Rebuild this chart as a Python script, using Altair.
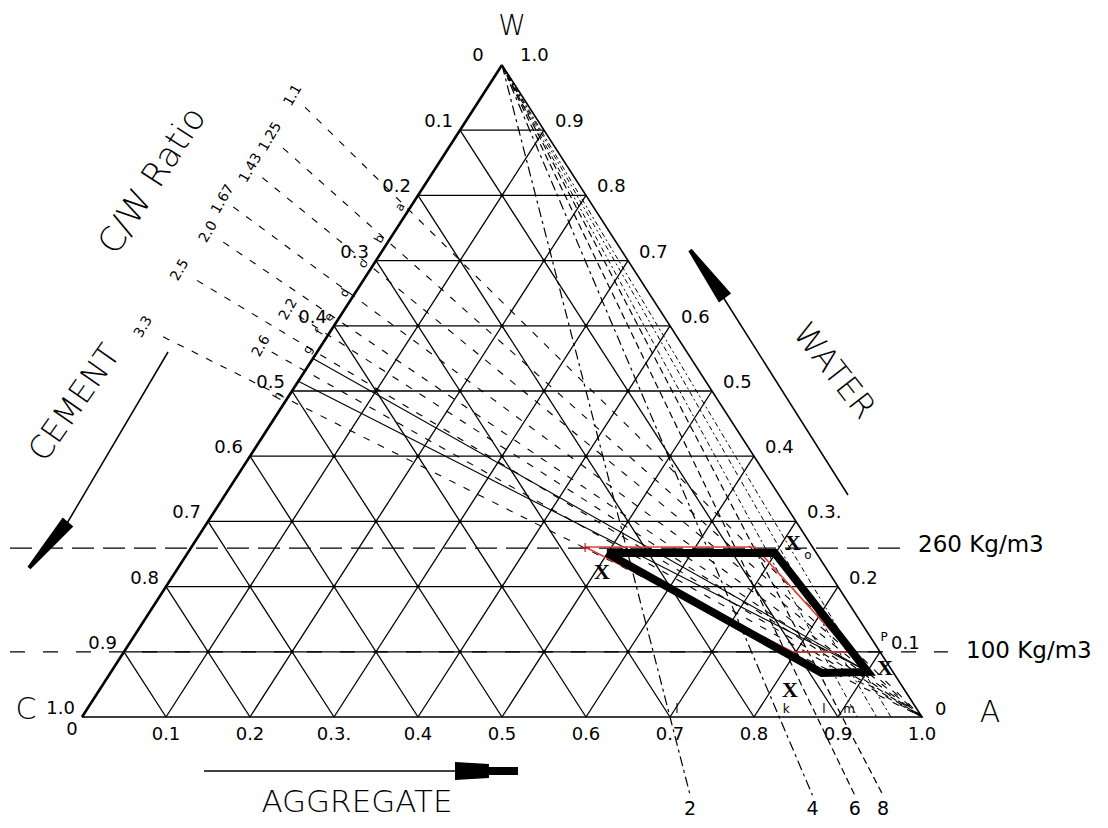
import math
import altair as alt
import pandas as pd

# ----------------------------------------------------------------- values
GRID = [0.1, 0.2, 0.3, 0.4, 0.5, 0.6, 0.7, 0.8, 0.9]

CEMENT_VALUES = [0.1, 0.2, 0.3, 0.4, 0.5, 0.6, 0.7, 0.8, 0.9, 1.0]
CEMENT_TEXT = ["0.1", "0.2", "0.3", "0.4", "0.5", "0.6", "0.7", "0.8", "0.9", "1.0"]
WATER_VALUES = [0.9, 0.8, 0.7, 0.6, 0.5, 0.4, 0.3, 0.2, 0.1]
WATER_TEXT = ["0.9", "0.8", "0.7", "0.6", "0.5", "0.4", "0.3.", "0.2", "0.1"]
AGG_VALUES = [0.1, 0.2, 0.3, 0.4, 0.5, 0.6, 0.7, 0.8, 0.9, 1.0]
AGG_TEXT = ["0.1", "0.2", "0.3.", "0.4", "0.5", "0.6", "0.7", "0.8", "0.9", "1.0"]

CW_TEXT = ["1.1", "1.25", "1.43", "1.67", "2.0", "2.2", "2.5", "2.6", "3.3"]
CW_EDGE_W = [0.778, 0.729, 0.690, 0.646, 0.609, 0.586, 0.559, 0.531, 0.488]
EDGE_LETTERS = ["a", "b", "c", "d", "e", "f", "g", "", "h"]

APEX_TEXT = ["2", "4", "6", "8"]
APEX_BASE_A = [0.700, 0.830, 0.875, 0.905]
APEX_LETTERS = ["l", "k", "l", "m"]
APEX_EXTRA_A = [0.923, 0.946, 0.963]

SOLID_START_W = [0.550, 0.515]
SOLID_END_A, SOLID_END_W = 0.900, 0.070

LIMIT_W = [0.259, 0.100]
LIMIT_TEXT = ["260 Kg/m3", "100 Kg/m3"]

ZONE_A = [0.499, 0.699, 0.901, 0.847]
ZONE_W = [0.2515, 0.2515, 0.069, 0.0675]
TRIAL_A = [0.4685, 0.6708, 0.8645, 0.7966]
TRIAL_W = [0.2607, 0.2607, 0.0997, 0.0997]

# ----------------------------------------------------------------- layout
CX, AX, BASE_Y, TOP_Y = 82.0, 922.0, 717.0, 65.0
SX = AX - CX
SY = BASE_Y - TOP_Y
CW_EXTEND = [1.202, 1.197, 1.199, 1.211, 1.196, 1.050, 1.198, 1.054, 1.195]
CW_LABEL_GAP = [17, 17, 15, 13, 18, 12, 20, 12, 22]
APEX_EXTEND = 1.12

W_CH, H_CH = 1092, 812
XDOM = [-74.0 / SX, -74.0 / SX + W_CH / SX]
YDOM = [1 + 57.0 / SY - H_CH / SY, 1 + 57.0 / SY]

FONT = "DejaVu Sans"


def tp(a, w):
    """ternary (aggregate, water) -> page pixel"""
    return (CX + SX * (a + w / 2.0), BASE_Y - SY * w)


def dx(px):
    return (px - CX) / SX


def dy(py):
    return (BASE_Y - py) / SY


X = alt.X("x:Q", scale=alt.Scale(domain=XDOM, nice=False, zero=False), axis=None)
Y = alt.Y("y:Q", scale=alt.Scale(domain=YDOM, nice=False, zero=False), axis=None)


def path_df(plist):
    recs = []
    for i, pts in enumerate(plist):
        for j, p in enumerate(pts):
            recs.append({"x": dx(p[0]), "y": dy(p[1]), "seg": i, "ord": j})
    return pd.DataFrame(recs)


def line_layer(plist, **kw):
    return alt.Chart(path_df(plist)).mark_line(**kw).encode(
        x=X, y=Y, detail="seg:N", order="ord:Q")


def wedge(base, tip, wb, wt):
    """filled arrow head polygon from base (width wb) to tip (width wt)"""
    vx, vy = tip[0] - base[0], tip[1] - base[1]
    n = math.hypot(vx, vy)
    px, py = -vy / n, vx / n
    return [(base[0] + px * wb / 2, base[1] + py * wb / 2),
            (tip[0] + px * wt / 2, tip[1] + py * wt / 2),
            (tip[0] - px * wt / 2, tip[1] - py * wt / 2),
            (base[0] - px * wb / 2, base[1] - py * wb / 2)]


def text_layer(recs, **kw):
    df = pd.DataFrame([{"x": dx(x), "y": dy(y), "t": t} for x, y, t in recs if t != ""])
    opts = dict(font=FONT, color="black")
    opts.update(kw)
    return alt.Chart(df).mark_text(**opts).encode(x=X, y=Y, text="t:N")


layers = []

# ---- grid
grid = []
for g in GRID:
    grid.append([tp(0, g), tp(1 - g, g)])          # constant water
    grid.append([tp(g, 0), tp(g, 1 - g)])          # constant aggregate
    grid.append([tp(1 - g, 0), tp(0, 1 - g)])      # constant cement
layers.append(line_layer(grid, color="black", strokeWidth=1.3))
layers.append(line_layer([[tp(0, 0), tp(1, 0), tp(0, 1)]], color="black", strokeWidth=1.6))
layers.append(line_layer([[tp(0, 0), tp(0, 1)]], color="black", strokeWidth=2.6))

nodes = []
for i in range(1, 10):
    for j in range(1, 10):
        if i + j < 10:
            p = tp(i / 10.0, j / 10.0)
            nodes.append({"x": dx(p[0]), "y": dy(p[1])})
layers.append(alt.Chart(pd.DataFrame(nodes)).mark_circle(size=12, color="black", opacity=1).encode(x=X, y=Y))

# ---- C/W ratio lines through the aggregate vertex
apx = tp(1, 0)
cw_lines, cw_labels, edge_labels = [], [], []
for w, ext, gap, txt, let in zip(CW_EDGE_W, CW_EXTEND, CW_LABEL_GAP, CW_TEXT, EDGE_LETTERS):
    e = tp(0, w)
    vx, vy = e[0] - apx[0], e[1] - apx[1]
    n = math.hypot(vx, vy)
    ux, uy = vx / n, vy / n
    s = (apx[0] + ext * vx, apx[1] + ext * vy)
    cw_lines.append([s, apx])
    cw_labels.append((s[0] + gap * ux, s[1] + gap * uy, txt))
    edge_labels.append((e[0] - 9, e[1] - 3, let))
layers.append(line_layer(cw_lines, color="black", strokeWidth=1.1, strokeDash=[7, 9]))

# ---- solid lines from cement side toward lower zone
solid = [[tp(0, w), tp(SOLID_END_A, SOLID_END_W)] for w in SOLID_START_W]
layers.append(line_layer(solid, color="black", strokeWidth=1.1))

# ---- lines from the water vertex
top = tp(0, 1)
apex_dd, apex_d, apex_labels, apex_letters = [], [], [], []
for i, (a, txt, let) in enumerate(zip(APEX_BASE_A, APEX_TEXT, APEX_LETTERS)):
    b = tp(a, 0)
    end = (top[0] + APEX_EXTEND * (b[0] - top[0]), top[1] + APEX_EXTEND * (b[1] - top[1]))
    (apex_dd if i < 2 else apex_d).append([top, end])
    apex_labels.append((end[0], 809, txt))
    apex_letters.append((b[0] + 7, b[1] - 8, let))
extra = [[top, tp(a, 0)] for a in APEX_EXTRA_A]
layers.append(line_layer(apex_dd, color="black", strokeWidth=1.2, strokeDash=[10, 4, 3, 4]))
layers.append(line_layer(apex_d, color="black", strokeWidth=1.2, strokeDash=[7, 4]))
layers.append(line_layer(extra, color="black", strokeWidth=1.0, strokeDash=[5, 3, 2, 3]))

# ---- 260 / 100 kg/m3 limits
lim260 = [[(10, tp(0, LIMIT_W[0])[1]), (905, tp(0, LIMIT_W[0])[1])]]
lim100 = [[(10, tp(0, LIMIT_W[1])[1]), (948, tp(0, LIMIT_W[1])[1])]]
layers.append(line_layer(lim260, color="black", strokeWidth=1.3, strokeDash=[22, 9]))
layers.append(line_layer(lim100, color="black", strokeWidth=1.3, strokeDash=[15, 18]))

# ---- trial zone (red) and final zone (black)
red = [[tp(a, w) for a, w in zip(TRIAL_A, TRIAL_W)] + [tp(TRIAL_A[0], TRIAL_W[0])]]
blk = [[tp(a, w) for a, w in zip(ZONE_A, ZONE_W)] + [tp(ZONE_A[0], ZONE_W[0])]]
layers.append(line_layer(red, color="#e0413c", strokeWidth=1.6))
layers.append(line_layer(blk, color="black", strokeWidth=8, strokeJoin="miter"))
rp = tp(TRIAL_A[0], TRIAL_W[0])
layers.append(text_layer([(rp[0], rp[1] + 1, "+")], fontSize=14, color="#b02020"))

# ---- arrows
AY = 771
arrow_lines = [
    [(204, AY), (470, AY)],
    [(168, 352), (66, 525)],
    [(848, 495), (723, 297)],
]
layers.append(line_layer(arrow_lines, color="black", strokeWidth=1.5))
heads = [
    [(455, AY - 9), (489, AY - 7), (489, AY - 4), (518, AY - 4),
     (518, AY + 4), (489, AY + 4), (489, AY + 7), (455, AY + 9)],
    wedge((68, 522), (29, 568), 14, 4),
    wedge((725, 298), (690, 250), 15, 4),
]
layers.append(alt.Chart(path_df(heads)).mark_line(filled=True, color="black").encode(
    x=X, y=Y, detail="seg:N", order="ord:Q"))

# ---- tick labels
left = []
for v, t in zip(CEMENT_VALUES, CEMENT_TEXT):
    e = tp(0, 1 - v)
    left.append((e[0] - 7, e[1] - 8, t))
layers.append(text_layer(left, fontSize=18, align="right", baseline="middle"))

right = []
for v, t in zip(WATER_VALUES, WATER_TEXT):
    e = tp(1 - v, v)
    right.append((e[0] + 11, e[1] - 8, t))
right.append((top[0] + 18, top[1] - 9, "1.0"))
right.append((apx[0] + 13, apx[1] - 7, "0"))
layers.append(text_layer(right, fontSize=18, align="left", baseline="middle"))

bottom = [(tp(a, 0)[0], 735, t) for a, t in zip(AGG_VALUES, AGG_TEXT)]
bottom.append((72, 730, "0"))
bottom.append((top[0] - 24, top[1] - 9, "0"))
layers.append(text_layer(bottom, fontSize=18, align="center", baseline="middle"))

# ---- C/W ratio labels and letters
layers.append(text_layer(cw_labels, fontSize=14, angle=300, align="center", baseline="middle"))
layers.append(text_layer(edge_labels, fontSize=12, angle=300, align="center", baseline="middle"))
layers.append(text_layer(apex_letters, fontSize=12, align="center", baseline="middle"))
layers.append(text_layer(apex_labels, fontSize=19, align="center", baseline="middle"))

# ---- titles
BIG = dict(fontSize=32, fontWeight=200, align="center", baseline="middle")
layers.append(text_layer([(512, 27, "W")], fontSize=28, fontWeight=200, align="center", baseline="middle"))
layers.append(text_layer([(26, 710, "C"), (990, 713, "A")],
                         fontSize=30, fontWeight=200, align="center", baseline="middle"))
layers.append(text_layer([(357, 803, "AGGREGATE")], **dict(BIG, fontSize=31)))
layers.append(text_layer([(153, 181, "C/W Ratio")], angle=303, **dict(BIG, fontSize=34)))
layers.append(text_layer([(75, 403, "CEMENT")], angle=305, **BIG))
layers.append(text_layer([(834, 371, "WATER")], angle=52, **BIG))
layers.append(text_layer([(918, 545, LIMIT_TEXT[0]), (966, 651, LIMIT_TEXT[1])],
                         fontSize=23, align="left", baseline="middle"))
layers.append(text_layer([(884, 637, "P"), (808, 555, "o")], fontSize=12, align="center", baseline="middle"))
layers.append(text_layer([(602, 572, "X"), (793, 543, "X"), (885, 668, "X"), (790, 690, "X")],
                         font="Liberation Serif", fontSize=22, fontWeight="bold",
                         align="center", baseline="middle"))

chart = alt.layer(*layers).properties(
    width=W_CH, height=H_CH, padding=0, autosize="none", background="white"
).configure_view(stroke=None)

chart.save("out.html", embed_options={"renderer": "svg", "actions": False})
